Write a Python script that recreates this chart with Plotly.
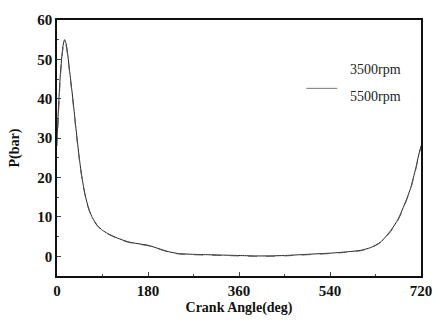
import plotly.graph_objects as go

angle = [0, 3, 6, 9, 12, 15, 18, 21, 25, 30, 35, 40, 45, 50, 55, 60, 65, 70, 80, 90, 100,
         120, 140, 160, 180, 200, 220, 240, 270, 300, 330, 360, 390, 420, 450, 480,
         510, 540, 570, 600, 620, 640, 660, 675, 690, 700, 705, 710, 715, 720]
p3500 = [30, 38, 45, 50, 53.5, 55, 54, 51.5, 47, 41.5, 35.5, 29.5, 24, 19.5, 16, 13.3, 11.3, 9.8, 7.8, 6.6, 5.8,
         4.6, 3.7, 3.2, 2.8, 2.0, 1.2, 0.7, 0.5, 0.4, 0.3, 0.2, 0.1, 0.1, 0.2, 0.4,
         0.6, 0.8, 1.1, 1.5, 2.2, 3.6, 6.5, 9.5, 14.0, 17.5, 20.0, 22.5, 25.5, 28]
p5500 = [28, 36, 44, 49.5, 53, 54.5, 53.5, 51, 46.5, 41, 35, 29, 23.6, 19.2, 15.8, 13.1, 11.1, 9.6, 7.7, 6.5, 5.7,
         4.5, 3.6, 3.1, 2.7, 1.9, 1.1, 0.6, 0.4, 0.3, 0.2, 0.1, 0.0, 0.0, 0.1, 0.3,
         0.5, 0.7, 1.0, 1.4, 2.1, 3.5, 6.3, 9.3, 13.8, 17.3, 19.8, 22.3, 25.3, 27.8]
x_ticks = [0, 180, 360, 540, 720]
y_ticks = [0, 10, 20, 30, 40, 50, 60]
series_names = ["3500rpm", "5500rpm"]

fig = go.Figure()
fig.add_trace(go.Scatter(x=angle, y=p3500, mode="lines", name=series_names[0],
                         line=dict(color="#222", width=1, shape="spline", smoothing=0.6)))
fig.add_trace(go.Scatter(x=angle, y=p5500, mode="lines", name=series_names[1],
                         line=dict(color="#555", width=1, dash="dash", shape="spline", smoothing=0.6)))

tickfont = dict(family="Liberation Serif", size=15, color="#111", weight="bold")
titlefont = dict(family="Liberation Serif", size=14, color="#111", weight="bold")
fig.update_layout(
    width=444, height=326,
    margin=dict(l=57, r=12, t=14, b=50),
    paper_bgcolor="white", plot_bgcolor="white",
    showlegend=False,
    xaxis=dict(range=[0, 720], tickvals=x_ticks, ticks="inside", ticklen=4,
               minor=dict(tickvals=[90, 270, 450, 630], ticks="inside", ticklen=2),
               showline=True, linecolor="#111", linewidth=1.5, mirror=True,
               showgrid=False, zeroline=False,
               tickfont=tickfont,
               title=dict(text="Crank Angle(deg)", font=titlefont, standoff=4)),
    yaxis=dict(range=[-5, 60], tickvals=y_ticks, ticks="inside", ticklen=4,
               minor=dict(tickvals=[5, 15, 25, 35, 45, 55], ticks="inside", ticklen=2),
               showline=True, linecolor="#111", linewidth=1.5, mirror=True,
               showgrid=False, zeroline=False,
               tickfont=tickfont,
               title=dict(text="P(bar)", font=titlefont, standoff=14)),
)

# legend drawn as annotations
legfont = dict(family="Liberation Serif", size=14, color="#222")
fig.add_annotation(x=0.95, y=0.845, xref="paper", yref="paper", text=series_names[0],
                   showarrow=False, xanchor="right", font=legfont)
fig.add_annotation(x=0.95, y=0.74, xref="paper", yref="paper", text=series_names[1],
                   showarrow=False, xanchor="right", font=legfont)
fig.add_shape(type="line", xref="paper", yref="paper", x0=0.685, x1=0.77, y0=0.733, y1=0.733,
              line=dict(color="#777", width=1))

fig.write_html("out.html")
